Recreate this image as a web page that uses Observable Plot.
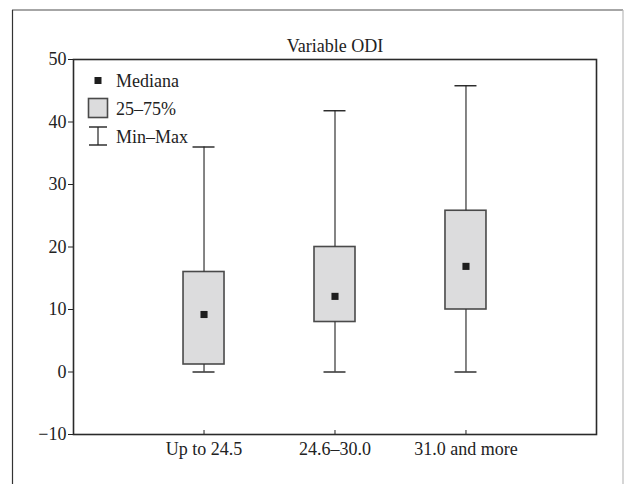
<!DOCTYPE html>
<html>
<head>
<meta charset="utf-8">
<script src="https://cdn.jsdelivr.net/npm/d3@7"></script>
<script src="https://cdn.jsdelivr.net/npm/@observablehq/plot@0.6"></script>
<style>
  html, body { margin: 0; padding: 0; background: #fff; }
  #chart { position: relative; width: 624px; height: 484px; overflow: hidden; }
  #chart svg, #chart svg text { font-family: "Liberation Serif", serif !important; }
</style>
</head>
<body>
<div id="chart"></div>
<script>
const categories = ["Up to 24.5", "24.6–30.0", "31.0 and more"];
const mins = [0, 0, 0];
const q1s = [1.2, 8, 10];
const medians = [9.2, 12.1, 16.9];
const q3s = [16, 20, 25.8];
const maxs = [36, 41.8, 45.8];
const yTicks = [-10, 0, 10, 20, 30, 40, 50];
const title = "Variable ODI";
const legendLabels = ["Mediana", "25–75%", "Min–Max"];

const data = categories.map((c, i) => ({
  cat: c, min: mins[i], q1: q1s[i], median: medians[i], q3: q3s[i], max: maxs[i]
}));

const W = 624, H = 484;
const mT = 59, mB = 50, mL = 73, mR = 28;
const pxPerUnit = (H - mT - mB) / 60;

const plot = Plot.plot({
  width: W,
  height: H,
  marginTop: mT,
  marginBottom: mB,
  marginLeft: mL,
  marginRight: mR,
  style: { fontFamily: "'Liberation Serif', serif", fontSize: "18px", background: "#fff", color: "#222" },
  x: { type: "band", domain: categories, paddingInner: 0.687, paddingOuter: 0.84, round: false, label: null },
  y: { domain: [-10, 50], label: null },
  marks: [
    Plot.barY(data, { x: "cat", y1: "q1", y2: "q3", fill: "#dcdcdd", stroke: "#4a4a4a", strokeWidth: 1.6 }),
    Plot.ruleX(data, { x: "cat", y1: "min", y2: "q1", stroke: "#333", strokeWidth: 1.2 }),
    Plot.ruleX(data, { x: "cat", y1: "q3", y2: "max", stroke: "#333", strokeWidth: 1.2 }),
    Plot.tickY(data, { x: "cat", y: "max", insetLeft: 9.5, insetRight: 9.5, stroke: "#222", strokeWidth: 1.4 }),
    Plot.tickY(data, { x: "cat", y: "min", insetLeft: 9.5, insetRight: 9.5, stroke: "#222", strokeWidth: 1.4 }),
    Plot.dot(data, { x: "cat", y: "median", symbol: "square", r: 4, fill: "#1e1e1e", stroke: null }),
    Plot.ruleX(categories, { x: d => d, y1: -10, y2: -10 + 4 / pxPerUnit, stroke: "#222", strokeWidth: 1 }),
    Plot.axisY({ ticks: yTicks, tickSize: 5, tickPadding: 2, fontSize: 18, label: null, tickFormat: d => d < 0 ? "−" + Math.abs(d) : String(d) }),
    Plot.axisX({ tickSize: 0, tickPadding: 8, fontSize: 18, label: null }),
    Plot.frame({ stroke: "#2a2a2a", strokeWidth: 1.6 }),
    Plot.text([title], { frameAnchor: "top", dy: -8, lineAnchor: "bottom", fontSize: 18, fill: "#222" })
  ]
});

document.getElementById("chart").appendChild(plot);

// decorations: outer border and legend
const svg = d3.select(plot);
const deco = svg.append("g");
deco.append("line").attr("x1", 12).attr("x2", 623).attr("y1", 10).attr("y2", 10).attr("stroke", "#888").attr("stroke-width", 1.6);
deco.append("line").attr("x1", 12.5).attr("x2", 12.5).attr("y1", 10).attr("y2", H).attr("stroke", "#333").attr("stroke-width", 1.2);
deco.append("line").attr("x1", 623).attr("x2", 623).attr("y1", 10).attr("y2", H).attr("stroke", "#bbb").attr("stroke-width", 1.2);

const lg = svg.append("g")
  .attr("font-family", "'Liberation Serif', serif")
  .attr("font-size", 18)
  .attr("fill", "#222")
  .attr("text-anchor", "start");
// Mediana marker
lg.append("rect").attr("x", 94.5).attr("y", 77).attr("width", 7).attr("height", 7).attr("fill", "#1e1e1e");
// 25-75 box
lg.append("rect").attr("x", 88.5).attr("y", 98.5).attr("width", 19).attr("height", 19).attr("fill", "#dcdcdd").attr("stroke", "#4a4a4a").attr("stroke-width", 1.6);
// Min-Max icon
lg.append("line").attr("x1", 89).attr("x2", 107).attr("y1", 127).attr("y2", 127).attr("stroke", "#222").attr("stroke-width", 1.4);
lg.append("line").attr("x1", 89).attr("x2", 107).attr("y1", 145).attr("y2", 145).attr("stroke", "#222").attr("stroke-width", 1.4);
lg.append("line").attr("x1", 98).attr("x2", 98).attr("y1", 127).attr("y2", 145).attr("stroke", "#222").attr("stroke-width", 1.2);
const baselines = [87, 115, 143];
legendLabels.forEach((t, i) => {
  lg.append("text").attr("x", 116).attr("y", baselines[i]).attr("text-anchor", "start").text(t);
});
</script>
</body>
</html>
